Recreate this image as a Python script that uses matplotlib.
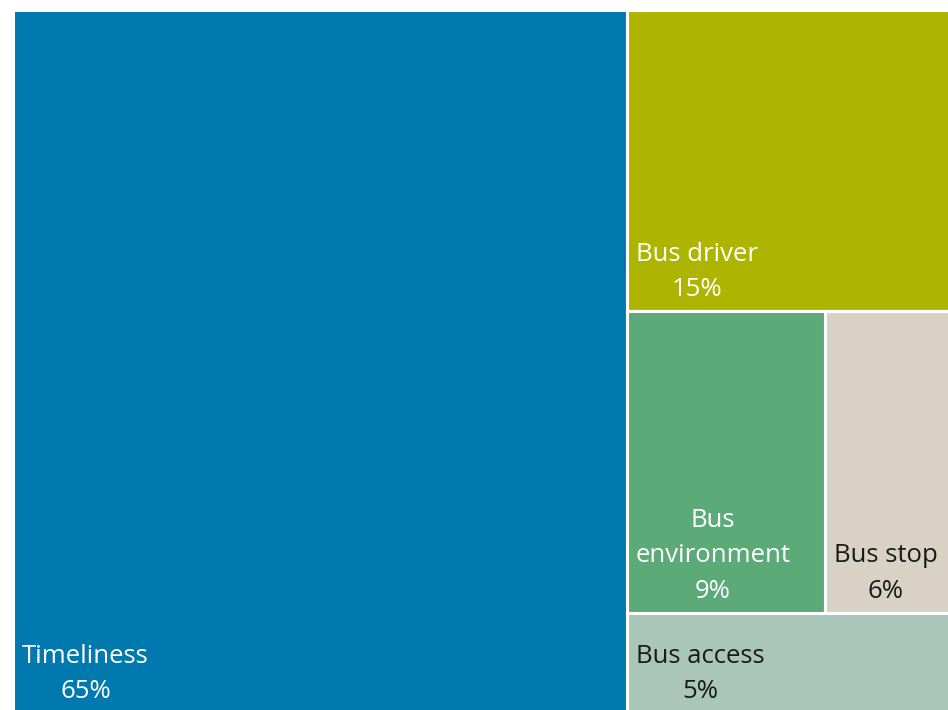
import matplotlib
matplotlib.use("Agg")
import matplotlib.pyplot as plt
from matplotlib.patches import Rectangle

# 各項目の割合（%）
categories = ["Timeliness", "Bus driver", "Bus\nenvironment", "Bus stop", "Bus access"]
shares = [65, 15, 9, 6, 5]
colors = ["#0079ae", "#aeb500", "#5caa78", "#d9d1c4", "#a9c6b9"]
text_colors = ["white", "white", "white", "#1a1a1a", "#1a1a1a"]

W, H = 100.0, 100.0


def layout(vals):
    # 左に最大の項目、右の列に残りを上から積む（2段目は左右に分割）
    total = sum(vals)
    rects = []
    w0 = W * vals[0] / total
    rects.append((0, 0, w0, H))
    rest = total - vals[0]
    wr = W - w0
    # 上段: Bus driver
    h1 = H * vals[1] / rest
    rects.append((w0, H - h1, wr, h1))
    # 中段: Bus environment + Bus stop
    h2 = H * (vals[2] + vals[3]) / rest
    w2 = wr * vals[2] / (vals[2] + vals[3])
    rects.append((w0, H - h1 - h2, w2, h2))
    rects.append((w0 + w2, H - h1 - h2, wr - w2, h2))
    # 下段: Bus access
    h3 = H - h1 - h2
    rects.append((w0, 0, wr, h3))
    return rects


fig = plt.figure(figsize=(9.48, 7.10), dpi=100)
ax = fig.add_axes([13 / 948, -3 / 710, 944 / 948, 703 / 710])
ax.set_xlim(0, W)
ax.set_ylim(0, H)
ax.axis("off")

for (x, y, w, h), name, val, c, tc in zip(layout(shares), categories, shares,
                                          colors, text_colors):
    ax.add_patch(Rectangle((x, y), w, h, facecolor=c, edgecolor="white",
                           linewidth=2.2))
    ax.annotate(f"{name}\n{val}%", xy=(x, y), xytext=(6.5, 6.5),
                textcoords="offset points", ha="left", va="bottom",
                multialignment="center", linespacing=1.55,
                fontsize=18.5, color=tc, family=["Open Sans", "DejaVu Sans"],
                annotation_clip=False)

fig.savefig("out.png", dpi=100)
